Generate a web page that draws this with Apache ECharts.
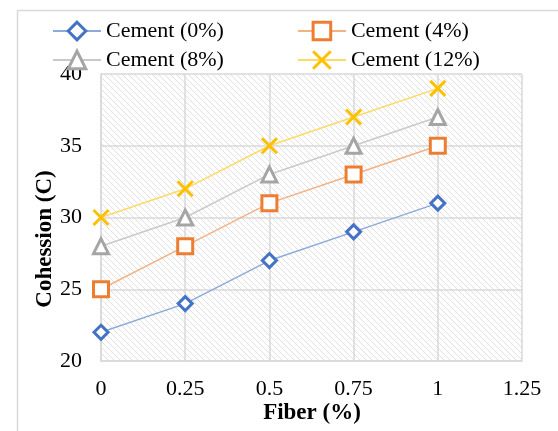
<!DOCTYPE html>
<html><head><meta charset="utf-8">
<script src="https://cdn.jsdelivr.net/npm/echarts@6/dist/echarts.min.js"></script>
<style>html,body{margin:0;padding:0;background:#fff}#c{width:558px;height:431px}</style>
</head><body><div id="c"></div>
<script>
const fiber = [0, 0.25, 0.5, 0.75, 1];
const cement0 = [22, 24, 27, 29, 31];
const cement4 = [25, 28, 31, 33, 35];
const cement8 = [28, 30, 33, 35, 37];
const cement12 = [30, 32, 35, 37, 39];
const seriesNames = ['Cement (0%)', 'Cement (4%)', 'Cement (8%)', 'Cement (12%)'];
const xTicks = [0, 0.25, 0.5, 0.75, 1, 1.25];
const yTicks = [20, 25, 30, 35, 40];

const FONT = '"Liberation Serif","Times New Roman",serif';
const tile = document.createElement('canvas');
tile.width = 6; tile.height = 6;
const tc = tile.getContext('2d');
tc.fillStyle = '#ffffff'; tc.fillRect(0,0,6,6);
tc.strokeStyle = '#e0e0e0'; tc.lineWidth = 1;
tc.beginPath(); tc.moveTo(-1,-1); tc.lineTo(7,7); tc.stroke();
tc.beginPath(); tc.moveTo(-1,5); tc.lineTo(1,7); tc.stroke();
tc.beginPath(); tc.moveTo(5,-1); tc.lineTo(7,1); tc.stroke();

function pts(ys){ return fiber.map((x,i)=>[x, ys[i]]); }
const xPath = 'path://M0,0L10,10M10,0L0,10';
const defs = [
  {data: cement0, line:'#8EA9DB', mk:'#4472C4', sym:'diamond', size:14},
  {data: cement4, line:'#F4B183', mk:'#ED7D31', sym:'rect', size:15},
  {data: cement8, line:'#C9C9C9', mk:'#A5A5A5', sym:'triangle', size:15},
  {data: cement12, line:'#FFD966', mk:'#FFC000', sym:xPath, size:15}
];
const series = defs.map((d,i)=>({
  name: seriesNames[i], type:'line', data: pts(d.data),
  symbol: d.sym, symbolSize: d.size, showSymbol:true,
  lineStyle:{color:d.line, width:1.5},
  itemStyle:{color: i===3 ? d.mk : '#ffffff', borderColor:d.mk, borderWidth: 3},
  emphasis:{disabled:true}, animation:false
}));

const chart = echarts.init(document.getElementById('c'));
const legendCommon = {
  left: 52, orient:'horizontal', itemWidth:48, itemHeight:22, itemGap:73, padding:0,
  textStyle:{fontFamily:FONT, fontSize:22, color:'#000'}, selectedMode:false,
  itemStyle:{borderWidth:3}
};
chart.setOption({
  animation:false,
  backgroundColor:'#fff',
  legend:[
    Object.assign({}, legendCommon, {top:20, data:[seriesNames[0], seriesNames[1]]}),
    Object.assign({}, legendCommon, {top:49, data:[seriesNames[2], seriesNames[3]]})
  ],
  grid:{left:101, top:74, right:36, bottom:70, show:true, borderWidth:0,
        backgroundColor:{image: tile, repeat:'repeat'}},
  xAxis:{type:'value', min:0, max:1.25, interval:0.25,
    axisLine:{show:true, lineStyle:{color:'#d9d9d9', width:1.5}},
    axisTick:{show:false},
    splitLine:{show:true, lineStyle:{color:'#d9d9d9', width:1.5}},
    axisLabel:{fontFamily:FONT, fontSize:22, color:'#000', margin:17,
      formatter:v=>String(v)}},
  yAxis:{type:'value', min:20, max:40, interval:5,
    axisLine:{show:true, lineStyle:{color:'#d9d9d9', width:1.5}},
    axisTick:{show:false},
    splitLine:{show:true, lineStyle:{color:'#d9d9d9', width:1.5}},
    axisLabel:{fontFamily:FONT, fontSize:22, color:'#000', margin:19}},
  graphic:[
    {type:'rect', left:15, top:8, z:-10, silent:true,
     shape:{width:700, height:600}, style:{fill:'none', stroke:'#d9d9d9', lineWidth:1.5}},
    {type:'text', x:45, y:239, rotation:Math.PI/2, silent:true,
     style:{text:'Cohession (C)', fontFamily:FONT, fontSize:23, fontWeight:'bold', fill:'#000',
       align:'center', verticalAlign:'middle'}},
    {type:'text', x:312, y:413, silent:true,
     style:{text:'Fiber (%)', fontFamily:FONT, fontSize:23, fontWeight:'bold', fill:'#000',
       align:'center', verticalAlign:'middle'}}
  ],
  series: series
});
</script></body></html>
